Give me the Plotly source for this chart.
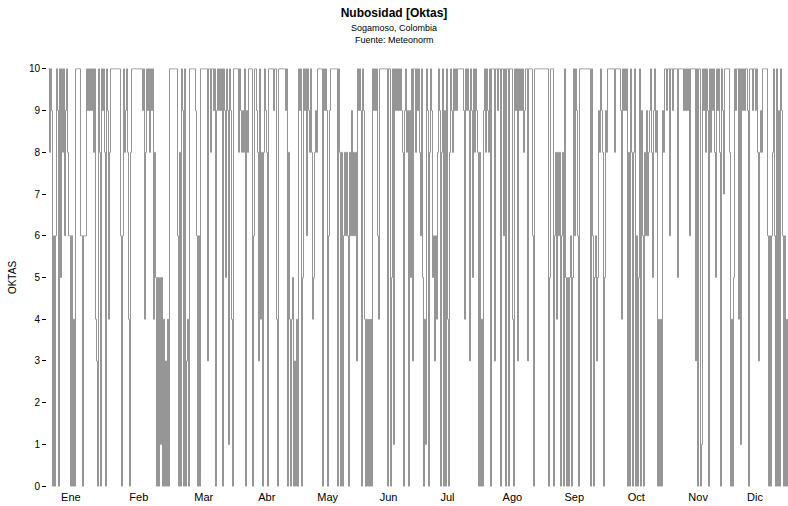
import numpy as np
import plotly.graph_objects as go

# Nubosidad en octas, un valor cada ~12 h a lo largo del año ("A" = 10 octas)
tramo_ene_mar = (
    "A8A90606A9" "0A5A8A69A8" "6606040AAA" "AA660666A9" "A9A9A8A430"
    "A80A9A80A9" "48AAAAAAAA" "AA606A89A8" "408AAAAAAA" "AAAA9A48A9"
    "A8A9A48505" "0515040304" "0AAAAAAAA6" "080A90A034" "0AAAAAA960"
    "60AAAAAAA3" "AA8AA9A09A" "9A9A0A95A9"
)
tramo_abr_jun = (
    "1A940AAAAA" "8A9898A098" "AAAA06AA98" "3A4808A980" "AAAAA9AA40"
    "AAAAAAA9A0" "8404503040" "A9A05A9A6A" "98A845898A" "AAAA0A9A90"
    "69AAAAAAA0" "A808068686" "086968683A" "9A90A94040" "4040A9A9A6"
    "4AAAAAAAA0" "AA05A1A9A9" "A9A9809A89"
)
tramo_jul_sep = (
    "095A3AA8A9" "A86A5041A9" "08A9563648" "A908A090A4" "08A98A9A9A"
    "AAAAA94A9A" "93A95A8A98" "080409A8A9" "8A0AAA3AA9" "AA0AA6A0AA"
    "0AAA40A9A3" "A9A9A89AA3" "AAAA60AAAA" "AAAAAAAAAA" "05AAA06848"
    "680680A505" "05605A6A96" "0AAAAAAAAA"
)
tramo_oct_dic = (
    "AA0A605635" "98A980598A" "AAAAAA8AAA" "AA94A9A9A0" "80A808A060"
    "5A09608696" "89A859A890" "404098AA9A" "A6AA9AAAA5" "AAAAA9A9A9"
    "A6AAAAA3A0" "AA01A9A8A9" "0A8A9A85A9" "A80A97AAAA" "A80405A9AA"
    "4A1A9A9AA9" "0AAA9AA9A8" "3898AAAAA6" "06068A60A0" "90A96060406"
)

meses = ["Ene", "Feb", "Mar", "Abr", "May", "Jun",
         "Jul", "Ago", "Sep", "Oct", "Nov", "Dic"]
dia_etiqueta = [11, 44.5, 76.5, 107.5, 137.5, 167.5,
                196.5, 228.5, 259, 289.5, 320, 348]
niveles_y = list(range(0, 11))


def decodificar(txt):
    return [10 if c == "A" else int(c) for c in txt]


nubosidad = decodificar(tramo_ene_mar + tramo_abr_jun + tramo_jul_sep + tramo_oct_dic)
n = len(nubosidad)
paso = 365.0 / n
dia = np.arange(n) * paso

fuente = "Liberation Sans, Arial, Helvetica, sans-serif"

fig = go.Figure()
fig.add_trace(go.Scatter(
    x=dia, y=nubosidad, mode="lines",
    line=dict(color="#969696", width=1, shape="hv"),
    hoverinfo="skip", showlegend=False,
))

fig.update_layout(
    width=788, height=506,
    margin=dict(l=47, r=0, t=68, b=19),
    paper_bgcolor="white", plot_bgcolor="white",
    font=dict(family=fuente, size=10, color="black"),
    title=dict(text="<b>Nubosidad [Oktas]</b>", x=0.5, xanchor="center",
               y=1 - 13 / 506, yanchor="middle", yref="container",
               font=dict(size=12, family=fuente, color="black")),
    annotations=[
        dict(text="Sogamoso, Colombia", xref="paper", yref="paper",
             x=(394 - 47) / 741, y=(487 - 28) / 419, showarrow=False,
             xanchor="center", yanchor="middle", font=dict(size=9)),
        dict(text="Fuente: Meteonorm", xref="paper", yref="paper",
             x=(394 - 47) / 741, y=(487 - 40) / 419, showarrow=False,
             xanchor="center", yanchor="middle", font=dict(size=9)),
    ],
)

fig.update_xaxes(
    range=[-1.5 * paso, (n - 1.5) * paso],
    tickmode="array", tickvals=dia_etiqueta, ticktext=meses,
    ticks="", showgrid=False, zeroline=False, showline=False,
    tickfont=dict(size=11), ticklabelstandoff=2,
)
fig.update_yaxes(
    range=[-0.02, 10.02],
    tickmode="array", tickvals=niveles_y,
    ticks="outside", ticklen=4, tickcolor="black", tickwidth=1,
    showgrid=False, zeroline=False, showline=False,
    tickfont=dict(size=10),
    title=dict(text="OKTAS", font=dict(size=10), standoff=10),
)

fig.write_html("out.html")
